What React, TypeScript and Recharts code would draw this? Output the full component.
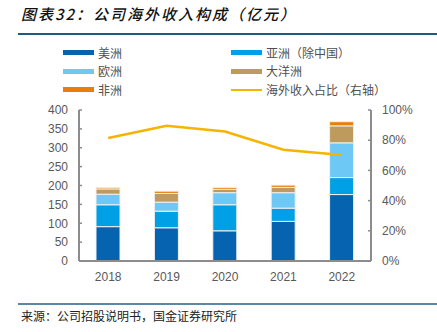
import React from "react";
import { ComposedChart, Bar, Line, XAxis, YAxis } from "recharts";

const years = ["2018", "2019", "2020", "2021", "2022"];
const americas = [91, 88, 80, 105, 176];
const asia = [58, 44, 69, 35, 45];
const europe = [28, 24, 32, 41, 92];
const oceania = [14, 23, 9, 14, 45];
const africa = [4, 6, 5, 6, 11];
const overseasShare = [81.4, 89.5, 85.7, 73.7, 70.2];

const leftTicks = [0, 50, 100, 150, 200, 250, 300, 350, 400];
const rightTicks = [0, 20, 40, 60, 80, 100];
const boundaryTicks = [1, 2, 3, 4];

const titleText = "图表32：公司海外收入构成（亿元）";
const sourceText = "来源：公司招股说明书，国金证券研究所";

const series = [
  { key: "americas", name: "美洲", color: "#0563B0" },
  { key: "asia", name: "亚洲（除中国）", color: "#00A0E6" },
  { key: "europe", name: "欧洲", color: "#6DC8F5" },
  { key: "oceania", name: "大洋洲", color: "#BE9A5C" },
  { key: "africa", name: "非洲", color: "#EA7E0B" },
];
const lineSeries = { key: "share", name: "海外收入占比（右轴）", color: "#F5B400" };

const data = years.map((y, i) => ({
  year: y,
  americas: americas[i],
  asia: asia[i],
  europe: europe[i],
  oceania: oceania[i],
  africa: africa[i],
  share: overseasShare[i],
}));

const legendItems = [
  ...series.map((s) => ({ name: s.name, color: s.color, line: false })),
  { name: lineSeries.name, color: lineSeries.color, line: true },
];

const axisColor = "#8c8c8c";
const tickStyle = { fill: "#595959", fontSize: 12, fontFamily: "Liberation Sans, Arial, sans-serif" };
const font = "'Noto Sans CJK SC', 'Liberation Sans', sans-serif";

export default function App() {
  return (
    <div style={{ position: "absolute", left: 0, top: 0, width: 437, height: 332, background: "#fff", overflow: "hidden", fontFamily: font }}>
      <div style={{ position: "absolute", left: 21, top: 3, fontSize: 15, fontWeight: 500, fontStyle: "italic", color: "#111", letterSpacing: 2, lineHeight: "22px", whiteSpace: "nowrap" }}>
        {titleText}
      </div>
      <div style={{ position: "absolute", left: 18, top: 33, width: 419, height: 2, background: "#1F5A85" }} />
      {legendItems.map((it, i) => {
        const col = i % 2;
        const row = Math.floor(i / 2);
        const left = col === 0 ? 63 : 231;
        const cy = 52.5 + row * 18.5;
        return (
          <div key={it.name} style={{ position: "absolute", left, top: cy - 9, height: 18, display: "flex", alignItems: "center", whiteSpace: "nowrap" }}>
            <div style={{ width: 31, height: it.line ? 2 : 5, background: it.color }} />
            <span style={{ marginLeft: 4, fontSize: 12, color: "#505050", lineHeight: "18px" }}>{it.name}</span>
          </div>
        );
      })}
      <div style={{ position: "absolute", left: 0, top: 0 }}>
        <ComposedChart width={437} height={290} data={data} margin={{ top: 110, right: 16, bottom: 4, left: 0 }}>
          <XAxis
            xAxisId="b"
            type="number"
            domain={[0, 5]}
            ticks={boundaryTicks}
            height={0}
            axisLine={false}
            tick={false}
            tickSize={-4}
            tickLine={{ stroke: axisColor, strokeWidth: 1.5 }}
            allowDataOverflow
          />
          <XAxis
            dataKey="year"
            height={25}
            axisLine={{ stroke: axisColor, strokeWidth: 2 }}
            tickLine={false}
            tickSize={0}
            tickMargin={11}
            tick={tickStyle}
            interval={0}
          />
          <YAxis
            yAxisId="left"
            width={79}
            domain={[0, 400]}
            ticks={leftTicks}
            axisLine={{ stroke: axisColor, strokeWidth: 2 }}
            tickLine={{ stroke: axisColor, strokeWidth: 1.5 }}
            tickSize={-3}
            tickMargin={14}
            tick={tickStyle}
            interval={0}
          />
          <YAxis
            yAxisId="right"
            orientation="right"
            width={50}
            domain={[0, 100]}
            ticks={rightTicks}
            tickFormatter={(v) => `${v}%`}
            axisLine={{ stroke: axisColor, strokeWidth: 2 }}
            tickLine={{ stroke: axisColor, strokeWidth: 1.5 }}
            tickSize={-3}
            tickMargin={14}
            tick={tickStyle}
            interval={0}
          />
          {series.map((s) => (
            <Bar
              key={s.key}
              dataKey={s.key}
              name={s.name}
              stackId="a"
              yAxisId="left"
              fill={s.color}
              stroke="#f0f0f0"
              strokeWidth={1}
              barSize={24}
              isAnimationActive={false}
            />
          ))}
          <Line
            dataKey={lineSeries.key}
            name={lineSeries.name}
            yAxisId="right"
            type="linear"
            stroke={lineSeries.color}
            strokeWidth={2.5}
            dot={false}
            activeDot={false}
            isAnimationActive={false}
          />
        </ComposedChart>
      </div>
      <div style={{ position: "absolute", left: 18, top: 303, width: 419, height: 2, background: "#5B87A5" }} />
      <div style={{ position: "absolute", left: 21, top: 307, fontSize: 12, color: "#222", lineHeight: "18px", whiteSpace: "nowrap" }}>
        {sourceText}
      </div>
    </div>
  );
}
